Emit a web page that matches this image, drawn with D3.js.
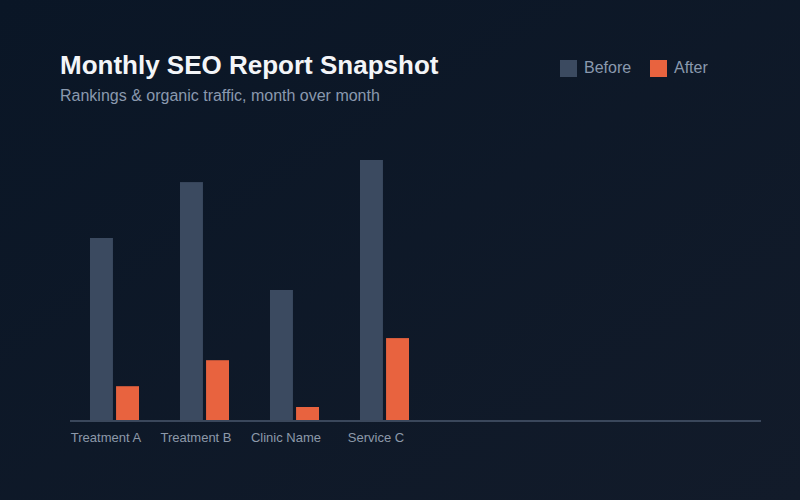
<!DOCTYPE html>
<html>
<head>
	<title>Monthly SEO Report Snapshot</title>
	<script src="https://d3js.org/d3.v7.min.js"></script>
	<style>
	body{
		margin: 0;
		background: #0b1626;
	}
	#chart{
		width: 800px;
		height: 500px;
	}
	</style>
</head>
<body>
	<div id="chart"></div>
	<script>
		var categories = ["Treatment A", "Treatment B", "Clinic Name", "Service C"];
		var seriesNames = ["Before", "After"];
		var beforeValues = [70, 91.5, 50, 100];
		var afterValues = [13, 23, 5, 31.5];
		var colors = ["#3b4a60", "#e8633f"];

		var width = 800,
			height = 500;

		var svg = d3.select("#chart")
			.append("svg")
			.attr("width", width)
			.attr("height", height);

		var defs = svg.append("defs");
		var grad = defs.append("linearGradient")
			.attr("id", "bg")
			.attr("x1", "0%").attr("y1", "0%")
			.attr("x2", "100%").attr("y2", "100%");
		grad.append("stop").attr("offset", "0%").attr("stop-color", "#0a1626");
		grad.append("stop").attr("offset", "100%").attr("stop-color", "#121b2a");

		svg.append("rect")
			.attr("width", width)
			.attr("height", height)
			.attr("fill", "url(#bg)");

		// title + subtitle
		svg.append("text")
			.attr("x", 60)
			.attr("y", 74)
			.attr("font-family", "Liberation Sans, Arial, sans-serif")
			.attr("font-weight", "bold")
			.attr("font-size", 26)
			.attr("fill", "#f3f5f8")
			.text("Monthly SEO Report Snapshot");

		svg.append("text")
			.attr("x", 60)
			.attr("y", 101)
			.attr("font-family", "Liberation Sans, Arial, sans-serif")
			.attr("font-size", 16)
			.attr("fill", "#8a99ae")
			.text("Rankings & organic traffic, month over month");

		// legend
		var legend = svg.append("g")
			.selectAll("g")
			.data(seriesNames)
			.enter().append("g")
			.attr("transform", function(d, i){ return "translate(" + (560 + i * 90) + ",60)"; });

		legend.append("rect")
			.attr("width", 17)
			.attr("height", 17)
			.attr("fill", function(d, i){ return colors[i]; });

		legend.append("text")
			.attr("x", 24)
			.attr("y", 13)
			.attr("font-family", "Liberation Sans, Arial, sans-serif")
			.attr("font-size", 16)
			.attr("fill", "#8a99ae")
			.text(function(d){ return d; });

		// scales
		var baseline = 420;
		var y = d3.scaleLinear()
			.domain([0, 100])
			.range([baseline, 160]);

		var x0 = d3.scaleBand()
			.domain(categories)
			.range([70, 430])
			.padding(0);

		var x1 = d3.scaleBand()
			.domain(seriesNames)
			.range([20, 69])
			.paddingInner(0.12);

		var rows = categories.map(function(c, i){
			return {cat: c, values: [beforeValues[i], afterValues[i]]};
		});

		var groups = svg.append("g")
			.selectAll("g")
			.data(rows)
			.enter().append("g")
			.attr("transform", function(d){ return "translate(" + x0(d.cat) + ",0)"; });

		groups.selectAll("rect")
			.data(function(d){
				return d.values.map(function(v, i){ return {key: seriesNames[i], value: v, i: i}; });
			})
			.enter().append("rect")
			.attr("x", function(d){ return x1(d.key); })
			.attr("y", function(d){ return y(d.value); })
			.attr("width", x1.bandwidth())
			.attr("height", function(d){ return baseline - y(d.value); })
			.attr("fill", function(d){ return colors[d.i]; });

		// category labels
		groups.append("text")
			.attr("x", 36)
			.attr("y", 442)
			.attr("text-anchor", "middle")
			.attr("font-family", "Liberation Sans, Arial, sans-serif")
			.attr("font-size", 13)
			.attr("fill", "#8d99aa")
			.text(function(d){ return d.cat; });

		// baseline axis
		svg.append("line")
			.attr("x1", 70)
			.attr("x2", 761)
			.attr("y1", baseline + 1)
			.attr("y2", baseline + 1)
			.attr("stroke", "#3a475b")
			.attr("stroke-width", 2);
	</script>
</body>
</html>
